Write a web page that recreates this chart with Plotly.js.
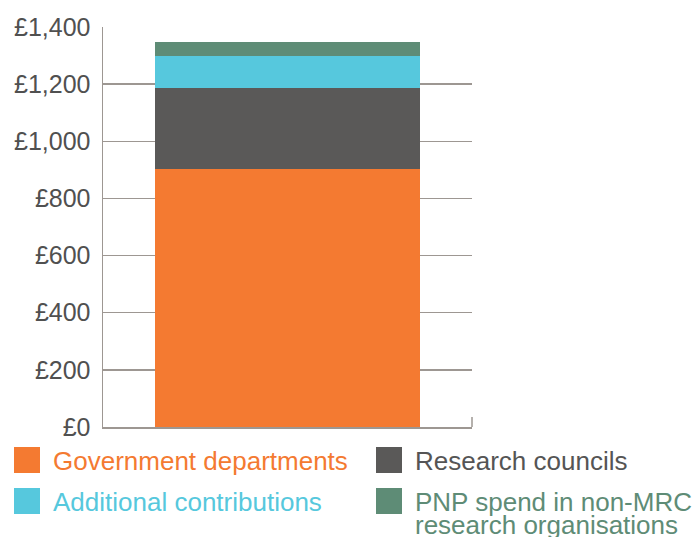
<!DOCTYPE html>
<html>
<head>
<meta charset="utf-8">
<script src="https://cdn.plot.ly/plotly-3.0.1.min.js"></script>
<style>html,body{margin:0;padding:0;background:#fff;}#chart{width:694px;height:537px;}</style>
</head>
<body>
<div id="chart"></div>
<script>
var categories = ["Total"];
var seriesNames = ["Government departments", "Research councils", "Additional contributions", "PNP spend in non-MRC<br>research organisations"];
var seriesValues = [[902], [284], [112], [49]];
var seriesColors = ["#F47A31", "#5A5958", "#56C8DD", "#5E8C76"];
var tickValues = [0, 200, 400, 600, 800, 1000, 1200, 1400];
var tickLabels = ["£0", "£200", "£400", "£600", "£800", "£1,000", "£1,200", "£1,400"];

var traces = seriesNames.map(function (n, i) {
  return {
    type: "bar", x: categories, y: seriesValues[i], name: n,
    marker: {color: seriesColors[i], line: {width: 0}},
    width: 0.72, showlegend: false, hoverinfo: "y+name"
  };
});

// legend drawn with shapes + annotations (2 columns)
var legendPos = [[0, 0], [1, 0], [0, 1], [1, 1]];
var colX = [14, 376];
var rowY = [447, 488];
var lineGap = 23.5;
var shapes = [];
var annotations = [];
seriesNames.forEach(function (n, i) {
  var c = legendPos[i][0], r = legendPos[i][1];
  shapes.push({type: "rect", xref: "paper", yref: "paper",
    x0: (colX[c] - 103) / 369, x1: (colX[c] + 26 - 103) / 369,
    y0: (427 - rowY[r]) / 400, y1: (427 - rowY[r] - 26) / 400,
    fillcolor: seriesColors[i], line: {width: 0}});
  n.split("<br>").forEach(function (ln, k) {
    annotations.push({xref: "paper", yref: "paper",
      x: (colX[c] + 37.5 - 103) / 369, y: (427 - rowY[r] + 2.5 - k * lineGap) / 400,
      xanchor: "left", yanchor: "top", showarrow: false, align: "left", borderpad: 0,
      text: ln, font: {family: "Liberation Sans, Arial, sans-serif", size: 26, color: i === 1 ? "#555555" : seriesColors[i]}});
  });
});
// small tick at right end of the x axis
shapes.push({type: "line", xref: "paper", yref: "paper", x0: 1, x1: 1, y0: 0, y1: 10 / 400,
  line: {color: "#9d9792", width: 1.5}});

var layout = {
  width: 694, height: 537,
  margin: {l: 103, r: 222, t: 27, b: 110, pad: 0},
  paper_bgcolor: "#ffffff", plot_bgcolor: "#ffffff",
  barmode: "stack",
  showlegend: false,
  font: {family: "Liberation Sans, Arial, sans-serif", color: "#555555"},
  xaxis: {type: "category", showticklabels: false, showgrid: false, zeroline: false,
    showline: true, linecolor: "#9d9792", linewidth: 1.5, ticks: "", range: [-0.5, 0.5], fixedrange: true},
  yaxis: {range: [0, 1400], tickvals: tickValues, ticktext: tickLabels,
    showgrid: true, gridcolor: "#9d9792", gridwidth: 1.5, zeroline: false,
    showline: true, linecolor: "#9d9792", linewidth: 1.5, ticks: "",
    ticklabelstandoff: 6,
    tickfont: {family: "Liberation Sans, Arial, sans-serif", size: 25, color: "#505050"}, fixedrange: true},
  shapes: shapes,
  annotations: annotations
};

Plotly.newPlot("chart", traces, layout, {displayModeBar: false, staticPlot: true});
</script>
</body>
</html>
